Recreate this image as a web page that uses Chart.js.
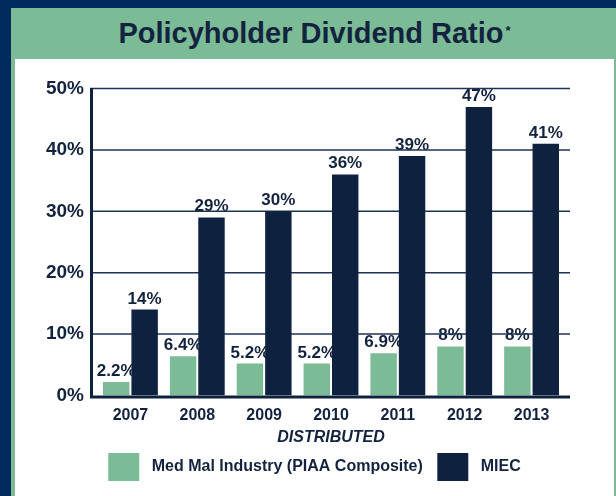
<!DOCTYPE html>
<html>
<head>
<meta charset="utf-8">
<script src="https://cdn.jsdelivr.net/npm/chart.js@4.4.1/dist/chart.umd.min.js"></script>
<style>
  body { margin: 0; width: 616px; height: 496px; background: #002b5c; overflow: hidden; position: relative; font-family: "Liberation Sans", Arial, sans-serif; }
  #panel { position: absolute; left: 11px; top: 8px; width: 605px; height: 488px; background: #7bbb95; }
  #title { position: absolute; left: 11px; top: 19px; width: 605px; text-align: center; font-weight: bold; font-size: 29px; line-height: 29px; color: #13233f; }
  #title sup { font-size: 13px; vertical-align: top; position: relative; top: -3px; left: 2px; }
  #plot { position: absolute; left: 15px; top: 59px; width: 599px; height: 437px; background: #fff; }
</style>
</head>
<body>
<div id="panel"></div>
<div id="title">Policyholder Dividend Ratio<sup>*</sup></div>
<div id="plot"><canvas id="ratioChart" width="599" height="437"></canvas></div>
<script>
const categories = ['2007', '2008', '2009', '2010', '2011', '2012', '2013'];
const industryValues = [2.2, 6.4, 5.2, 5.2, 6.9, 8, 8];
const miecValues = [14, 29, 30, 36, 39, 47, 41];
const yTicks = [0, 10, 20, 30, 40, 50];
const seriesNames = ['Med Mal Industry (PIAA Composite)', 'MIEC'];

const green = '#7bbb95';
const navy = '#0e2240';
const textColor = '#13233f';
const fontFamily = '"Liberation Sans", Arial, sans-serif';

document.addEventListener('DOMContentLoaded', () => {
  // labels + grid go under the bars, axis lines on top
  const chartDecor = {
    id: 'chartDecor',
    beforeDatasetsDraw(chart) {
      const { ctx, chartArea, scales } = chart;
      ctx.save();
      ctx.font = 'bold 17px ' + fontFamily;
      ctx.fillStyle = textColor;
      ctx.textAlign = 'center';
      ctx.textBaseline = 'alphabetic';
      chart.data.datasets.forEach((ds, i) => {
        chart.getDatasetMeta(i).data.forEach((bar, j) => {
          ctx.fillText(ds.data[j] + '%', bar.x, bar.y - 6);
        });
      });
      ctx.strokeStyle = '#1e3256';
      ctx.lineWidth = 1.5;
      yTicks.forEach(v => {
        if (v === 0) return;
        const y = scales.y.getPixelForValue(v);
        ctx.beginPath();
        ctx.moveTo(chartArea.left - 7, y);
        ctx.lineTo(chartArea.right + 5, y);
        ctx.stroke();
      });
      ctx.restore();
    },
    afterDatasetsDraw(chart) {
      const { ctx, chartArea } = chart;
      ctx.save();
      ctx.strokeStyle = navy;
      ctx.lineWidth = 3;
      ctx.beginPath();
      ctx.moveTo(chartArea.left - 5.5, chartArea.top - 0.5);
      ctx.lineTo(chartArea.left - 5.5, chartArea.bottom + 3);
      ctx.moveTo(chartArea.left - 7, chartArea.bottom + 1.5);
      ctx.lineTo(chartArea.right + 5, chartArea.bottom + 1.5);
      ctx.stroke();
      ctx.restore();
    }
  };

  const ctx = document.getElementById('ratioChart').getContext('2d');
  new Chart(ctx, {
    type: 'bar',
    data: {
      labels: categories,
      datasets: [
        { label: seriesNames[0], data: industryValues, backgroundColor: green, borderWidth: 0, categoryPercentage: 0.85, barPercentage: 0.93 },
        { label: seriesNames[1], data: miecValues, backgroundColor: navy, borderWidth: 0, categoryPercentage: 0.85, barPercentage: 0.93 }
      ]
    },
    options: {
      responsive: false,
      animation: false,
      layout: { padding: { top: 29.5, bottom: 5, left: 0, right: 0 } },
      scales: {
        x: {
          grid: { display: false, drawTicks: false },
          border: { display: false },
          ticks: { color: textColor, padding: 10, font: { family: fontFamily, size: 16, weight: 'bold' } },
          title: { display: true, text: 'DISTRIBUTED', color: textColor, padding: { top: 4, bottom: -4 }, font: { family: fontFamily, size: 16, weight: 'bold', style: 'italic' } },
          afterFit: s => { s.height = 47.5; }
        },
        y: {
          min: 0,
          max: 50,
          afterBuildTicks: s => { s.ticks = yTicks.map(v => ({ value: v })); },
          grid: { display: false, drawTicks: false },
          border: { display: false },
          ticks: { color: textColor, padding: 13, font: { family: fontFamily, size: 19, weight: 'bold' }, callback: v => v + '%' },
          afterFit: s => { s.width = 82; }
        },
        y2: {
          position: 'right',
          grid: { display: false, drawTicks: false },
          border: { display: false },
          ticks: { display: false },
          afterFit: s => { s.width = 49; }
        }
      },
      plugins: {
        tooltip: { enabled: false },
        legend: {
          position: 'bottom',
          labels: {
            boxWidth: 31,
            boxHeight: 28,
            padding: 10,
            color: textColor,
            font: { family: fontFamily, size: 16, weight: 'bold' },
            generateLabels: chart => Chart.defaults.plugins.legend.labels.generateLabels(chart)
              .map((l, i) => ({ ...l, text: ' ' + l.text + (i === 0 ? ' ' : '') }))
          }
        }
      }
    },
    plugins: [chartDecor]
  });
});
</script>
</body>
</html>
